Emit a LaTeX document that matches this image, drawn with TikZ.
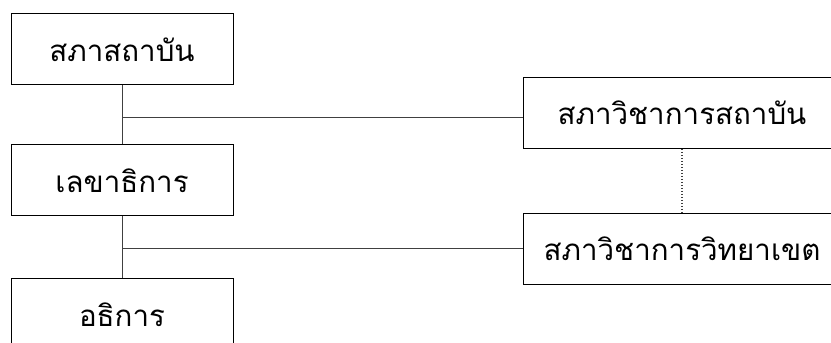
\documentclass[tikz,border=0pt]{standalone}
\usepackage{fontspec}
\newfontfamily\thaifont[Script=Thai]{Loma}
\usetikzlibrary{positioning}
\tikzstyle{unit}  = [rectangle, draw=black, line width=1pt, minimum width=222pt, minimum height=71pt, inner sep=0pt, font=\thaifont\fontsize{29.5}{32}\selectfont]
\tikzstyle{board} = [unit, minimum width=318pt]
\tikzstyle{link}  = [draw=black!75, line width=1pt]

\begin{document}
\begin{tikzpicture}[x=1pt,y=1pt]
		\useasboundingbox (0,0) rectangle (831,343);
		\clip (0,0) rectangle (831,343);
		\node[unit] (council) at (122,293.5) {สภาสถาบัน};
		\node[unit,below=59pt of council] (secretary) {เลขาธิการ};
		\node[unit,below=62pt of secretary] (rector) {อธิการ};
		\node[board] (academic) at (682,230) {สภาวิชาการสถาบัน};
		\node[board,below=64pt of academic] (campus) {สภาวิชาการวิทยาเขต};

		\coordinate (a1) at ([yshift=-5pt]academic.west);
		\coordinate (j1) at (council.south |- a1);
		\coordinate (j2) at (secretary.south |- campus.west);
		\draw[link] (council) -- (secretary);
		\draw[link] (secretary) -- (rector);
		\draw[link] (j1) -- (a1);
		\draw[link] (j2) -- (campus.west);
		\draw[link,dotted,line width=1.2pt] (academic) -- (campus);
	\end{tikzpicture}
\end{document}
